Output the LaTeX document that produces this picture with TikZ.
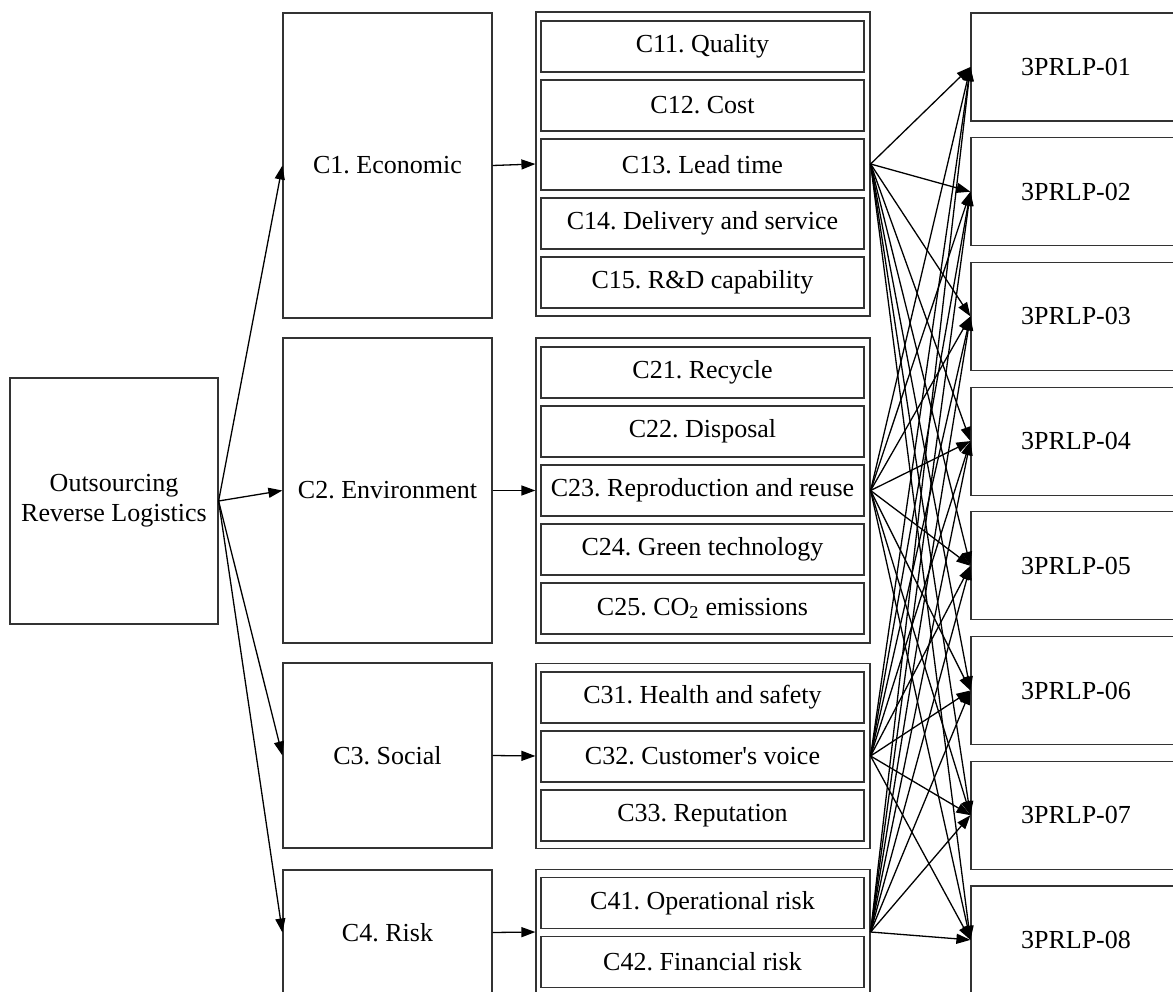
\documentclass[tikz,border=0pt]{standalone}
\usepackage{fontspec}
\setmainfont{Liberation Serif}
\usetikzlibrary{arrows.meta}
\frenchspacing

\begin{document}
\begin{tikzpicture}[x=1pt,y=-1pt,
    box/.style={draw=black!80,line width=1.2pt,inner sep=0pt,align=center,
      font=\fontsize{26}{30}\selectfont},
    crit/.style={box,minimum width=209pt},
    grp/.style={draw=black!80,line width=1.2pt,inner sep=0pt,minimum width=334pt},
    sub/.style={box,minimum width=323pt,minimum height=51pt},
    alt/.style={box,minimum width=210pt,minimum height=108pt},
    arr/.style={-{Triangle[length=14pt,width=10pt]},line width=1.3pt}]
\useasboundingbox (0,0) rectangle (1173,992);
\clip (0,0) rectangle (1173,992);
% goal
\node[box,minimum width=208pt,minimum height=246pt] (root) at (114,501) {Outsourcing\\Reverse Logistics};
% criteria
\node[crit,minimum height=305pt] (c1) at (387.5,165.5) {C1. Economic};
\node[crit,minimum height=305pt] (c2) at (387.5,490.5) {C2. Environment};
\node[crit,minimum height=185pt] (c3) at (387.5,755.5) {C3. Social};
\node[crit,minimum height=125pt] (c4) at (387.5,932.5) {C4. Risk};
% sub-criteria groups
\node[grp,minimum height=304pt] (g1) at (703,164) {};
\node[grp,minimum height=305pt] (g2) at (703,490.5) {};
\node[grp,minimum height=185pt] (g3) at (703,756) {};
\node[grp,minimum height=125pt] (g4) at (703,932) {};
\node[sub] (c11) at (702.5,46.5) {C11. Quality};
\node[sub] (c12) at (702.5,105.5) {C12. Cost};
\node[sub] (c13) at (702.5,164.5) {C13. Lead time};
\node[sub] (c14) at (702.5,223.5) {C14. Delivery and service};
\node[sub] (c15) at (702.5,282.5) {C15. R\&D capability};
\node[sub] (c21) at (702.5,372.5) {C21. Recycle};
\node[sub] (c22) at (702.5,431.5) {C22. Disposal};
\node[sub] (c23) at (702.5,490.5) {C23. Reproduction and reuse};
\node[sub] (c24) at (702.5,549.5) {C24. Green technology};
\node[sub] (c25) at (702.5,608.5) {C25. CO\textsubscript{2} emissions};
\node[sub] (c31) at (702.5,697.5) {C31. Health and safety};
\node[sub] (c32) at (702.5,756.5) {C32. Customer\textquotesingle s voice};
\node[sub] (c33) at (702.5,815.5) {C33. Reputation};
\node[sub] (c41) at (702.5,903) {C41. Operational risk};
\node[sub] (c42) at (702.5,962) {C42. Financial risk};
% alternatives
\node[alt] (p1) at (1076,67) {3PRLP-01};
\node[alt] (p2) at (1076,191.7) {3PRLP-02};
\node[alt] (p3) at (1076,316.4) {3PRLP-03};
\node[alt] (p4) at (1076,441.1) {3PRLP-04};
\node[alt] (p5) at (1076,565.8) {3PRLP-05};
\node[alt] (p6) at (1076,690.5) {3PRLP-06};
\node[alt] (p7) at (1076,815.2) {3PRLP-07};
\node[alt] (p8) at (1076,939.9) {3PRLP-08};
% links
\draw (root.east) edge[arr] (c1.west) edge[arr] (c2.west) edge[arr] (c3.west) edge[arr] (c4.west);
\draw[arr] (c1.east)--(g1.west);
\draw[arr] (c2.east)--(g2.west);
\draw[arr] (c3.east)--(g3.west);
\draw[arr] (c4.east)--(g4.west);
\draw (g1.east) edge[arr] (p1.west) edge[arr] (p2.west) edge[arr] (p3.west) edge[arr] (p4.west)
  edge[arr] (p5.west) edge[arr] (p6.west) edge[arr] (p7.west) edge[arr] (p8.west);
\draw (g2.east) edge[arr] (p1.west) edge[arr] (p2.west) edge[arr] (p3.west) edge[arr] (p4.west)
  edge[arr] (p5.west) edge[arr] (p6.west) edge[arr] (p7.west) edge[arr] (p8.west);
\draw (g3.east) edge[arr] (p1.west) edge[arr] (p2.west) edge[arr] (p3.west) edge[arr] (p4.west)
  edge[arr] (p5.west) edge[arr] (p6.west) edge[arr] (p7.west) edge[arr] (p8.west);
\draw (g4.east) edge[arr] (p1.west) edge[arr] (p2.west) edge[arr] (p3.west) edge[arr] (p4.west)
  edge[arr] (p5.west) edge[arr] (p6.west) edge[arr] (p7.west) edge[arr] (p8.west);
\end{tikzpicture}
\end{document}
